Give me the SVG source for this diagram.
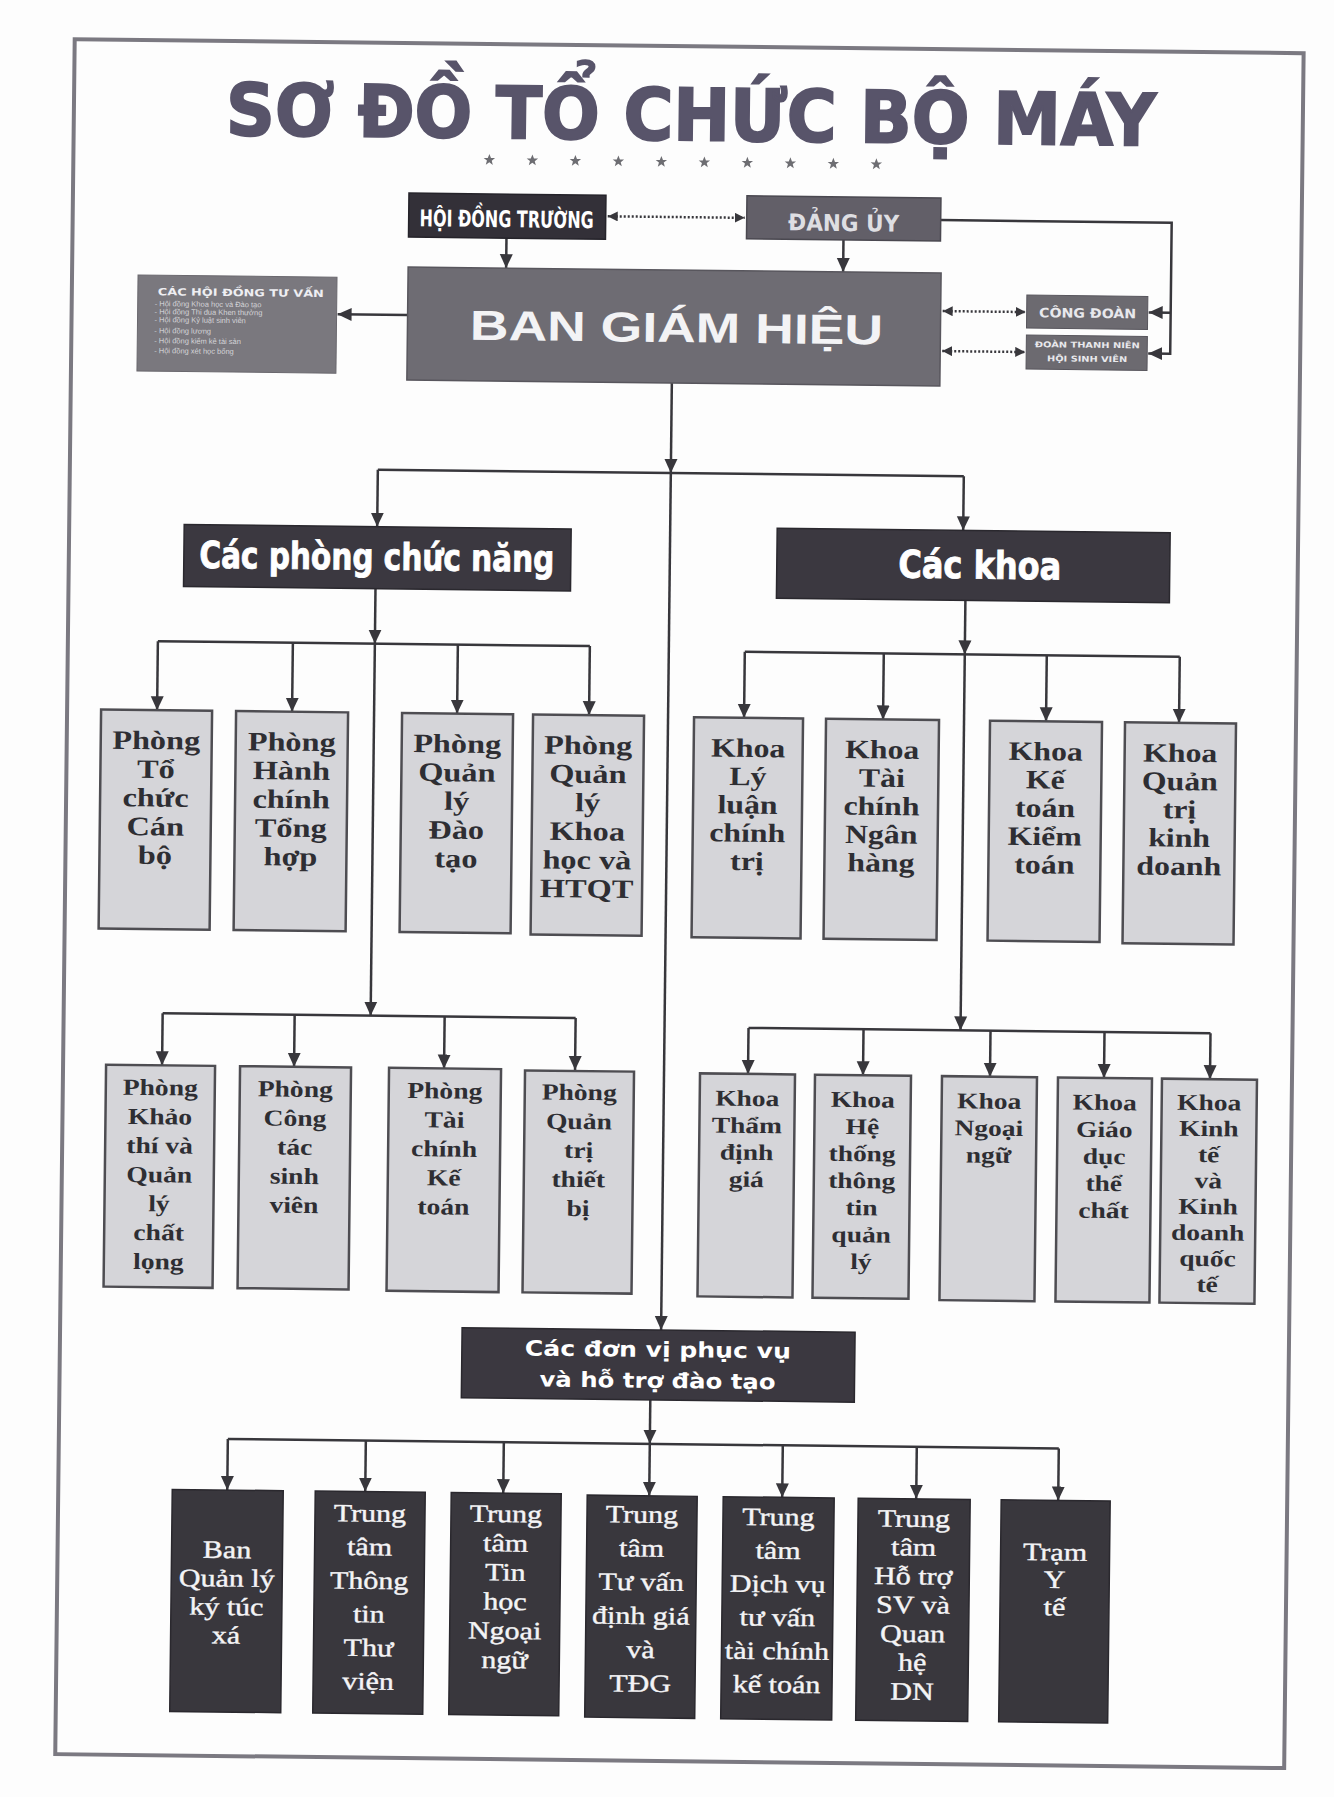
<svg xmlns="http://www.w3.org/2000/svg" width="1334" height="1797" viewBox="0 0 1334 1797">
<style>
.bl{fill:#d5d5d9;stroke:#4e4d52;stroke-width:2.5}
.bd{fill:#39373d;stroke:#2a282e;stroke-width:1.5}
.bh{fill:#3b3840;stroke:#2a282e;stroke-width:1.5}
.lt{font-family:"Liberation Serif",serif;font-weight:bold;fill:#2e2e33;text-anchor:middle}
.dt{font-family:"Liberation Serif",serif;fill:#f4f4f6;stroke:#f4f4f6;stroke-width:0.4;text-anchor:middle}
.hd{font-family:"DejaVu Sans",sans-serif;font-weight:bold;fill:#ffffff;text-anchor:middle}
.hx{stroke:#ffffff;stroke-width:0.9}
.sm{font-family:"Liberation Sans",sans-serif;fill:#d4d4d8}
.c{stroke:#38373c;stroke-width:2.5;fill:none}
.d{stroke:#38373c;stroke-width:2.5;fill:none;stroke-dasharray:2 2}
</style>
<defs>
<marker id="ah" viewBox="0 0 14 14" refX="14" refY="7" markerWidth="14" markerHeight="14" markerUnits="userSpaceOnUse" orient="auto"><path d="M0,0.5 L14,7 L0,13.5 z" fill="#38373c"/></marker>
<marker id="as" viewBox="0 0 10 10" refX="10" refY="5" markerWidth="10" markerHeight="10" markerUnits="userSpaceOnUse" orient="auto-start-reverse"><path d="M0,0 L10,5 L0,10 z" fill="#38373c"/></marker>
<path id="star" d="M0,-6 L1.6,-1.9 L5.7,-1.9 L2.4,0.7 L3.5,4.9 L0,2.4 L-3.5,4.9 L-2.4,0.7 L-5.7,-1.9 L-1.6,-1.9 z" fill="#6d6d72"/>
</defs>
<rect x="0" y="0" width="1334" height="1797" fill="#fdfdfd"/>
<g transform="rotate(0.65 667 898)">
<rect x="65" y="46" width="1229" height="1715" fill="none" stroke="#7b7981" stroke-width="4"/>
<text x="682" y="140" class="hd" font-size="72" style="fill:#58546a;stroke:#58546a;stroke-width:2" textLength="930" lengthAdjust="spacingAndGlyphs">SƠ ĐỒ TỔ CHỨC BỘ MÁY</text>
<g id="stars">
<use href="#star" x="481" y="162"/><use href="#star" x="524" y="162"/><use href="#star" x="567" y="162"/><use href="#star" x="610" y="162"/><use href="#star" x="653" y="162"/><use href="#star" x="696" y="162"/><use href="#star" x="739" y="162"/><use href="#star" x="782" y="162"/><use href="#star" x="825" y="162"/><use href="#star" x="868" y="162"/>
</g>

<g id="connectors">
<path class="d" d="M600,217 H737" marker-start="url(#as)" marker-end="url(#as)"/>
<path class="c" d="M499,240 V270" marker-end="url(#ah)"/>
<path class="c" d="M836,238 V270" marker-end="url(#ah)"/>
<path class="c" d="M933,217 H1164 V348 H1142" marker-end="url(#ah)"/>
<path class="c" d="M1164,307 H1142" marker-end="url(#ah)"/>
<path class="d" d="M936,308 H1019" marker-start="url(#as)" marker-end="url(#as)"/>
<path class="d" d="M936,348 H1019" marker-start="url(#as)" marker-end="url(#as)"/>
<path class="c" d="M401,318 H331" marker-end="url(#ah)"/>
<path class="c" d="M666,383 V473" marker-end="url(#ah)"/>
<path class="c" d="M373,473 H959"/>
<path class="c" d="M373,473 V530" marker-end="url(#ah)"/>
<path class="c" d="M959,473 V527" marker-end="url(#ah)"/>
<path class="c" d="M666,473 V1330" marker-end="url(#ah)"/>
<path class="c" d="M372,592 V647" marker-end="url(#ah)"/>
<path class="c" d="M155,647 H587"/>
<path class="c" d="M155,647 V716" marker-end="url(#ah)"/>
<path class="c" d="M290,647 V716" marker-end="url(#ah)"/>
<path class="c" d="M455,647 V716" marker-end="url(#ah)"/>
<path class="c" d="M587,647 V716" marker-end="url(#ah)"/>
<path class="c" d="M372,647 V1019" marker-end="url(#ah)"/>
<path class="c" d="M164,1019 H577"/>
<path class="c" d="M164,1019 V1071" marker-end="url(#ah)"/>
<path class="c" d="M296,1019 V1071" marker-end="url(#ah)"/>
<path class="c" d="M446,1019 V1071" marker-end="url(#ah)"/>
<path class="c" d="M577,1019 V1071" marker-end="url(#ah)"/>
<path class="c" d="M962,597 V651" marker-end="url(#ah)"/>
<path class="c" d="M742,651 H1177"/>
<path class="c" d="M742,651 V717" marker-end="url(#ah)"/>
<path class="c" d="M881,651 V717" marker-end="url(#ah)"/>
<path class="c" d="M1044,651 V717" marker-end="url(#ah)"/>
<path class="c" d="M1177,651 V717" marker-end="url(#ah)"/>
<path class="c" d="M962,651 V1027" marker-end="url(#ah)"/>
<path class="c" d="M750,1027 H1212"/>
<path class="c" d="M750,1027 V1073" marker-end="url(#ah)"/>
<path class="c" d="M865,1027 V1073" marker-end="url(#ah)"/>
<path class="c" d="M992,1027 V1073" marker-end="url(#ah)"/>
<path class="c" d="M1106,1027 V1073" marker-end="url(#ah)"/>
<path class="c" d="M1212,1027 V1073" marker-end="url(#ah)"/>
<path class="c" d="M656,1400 V1444" marker-end="url(#ah)"/>
<path class="c" d="M234,1444 H1065"/>
<path class="c" d="M234,1444 V1495" marker-end="url(#ah)"/>
<path class="c" d="M372,1444 V1495" marker-end="url(#ah)"/>
<path class="c" d="M510,1444 V1495" marker-end="url(#ah)"/>
<path class="c" d="M656,1444 V1496" marker-end="url(#ah)"/>
<path class="c" d="M789,1444 V1496" marker-end="url(#ah)"/>
<path class="c" d="M923,1444 V1496" marker-end="url(#ah)"/>
<path class="c" d="M1065,1444 V1496" marker-end="url(#ah)"/>
</g>

<g id="hoi-dong-truong">
<rect x="401" y="196" width="197" height="44" fill="#333038" stroke="#25232a" stroke-width="1.5"/>
<text x="499" y="229" class="hd" font-size="23" textLength="174" lengthAdjust="spacingAndGlyphs">HỘI ĐỒNG TRƯỜNG</text>
</g>
<g id="dang-uy">
<rect x="739" y="195" width="194" height="43" fill="#625f68" stroke="#4a4850" stroke-width="1.5"/>
<text x="836" y="229" class="hd" font-size="23" style="fill:#dedee2" textLength="111" lengthAdjust="spacingAndGlyphs">ĐẢNG ỦY</text>
</g>
<g id="ban-giam-hieu">
<rect x="401" y="270" width="533" height="113" fill="#6e6c73" stroke="#58565d" stroke-width="1.5"/>
<text x="670" y="342" font-family="Liberation Sans, sans-serif" font-weight="bold" font-size="42" fill="#f3f3f5" text-anchor="middle" textLength="413" lengthAdjust="spacingAndGlyphs">BAN GIÁM HIỆU</text>
</g>
<g id="hoi-dong-tu-van">
<rect x="131" y="281" width="199" height="96" fill="#7a787e" stroke="#6a686e" stroke-width="1"/>
<text x="234" y="301" class="hd" font-size="10" style="fill:#eeeef2" textLength="166" lengthAdjust="spacingAndGlyphs">CÁC HỘI ĐỒNG TƯ VẤN</text>
<text class="sm" font-size="7.5"><tspan x="148" y="312">- Hội đồng Khoa học và Đào tạo</tspan><tspan x="148" y="320">- Hội đồng Thi đua Khen thưởng</tspan><tspan x="148" y="328">- Hội đồng Kỷ luật sinh viên</tspan><tspan x="148" y="339">- Hội đồng lương</tspan><tspan x="148" y="349">- Hội đồng kiểm kê tài sản</tspan><tspan x="148" y="359">- Hội đồng xét học bổng</tspan></text>
</g>
<g id="cong-doan">
<rect x="1020" y="291" width="121" height="33" fill="#6c6a70" stroke="#58565d" stroke-width="1"/>
<text x="1081" y="313" class="hd" font-size="13" style="fill:#e8e8ec" textLength="97" lengthAdjust="spacingAndGlyphs">CÔNG ĐOÀN</text>
</g>
<g id="doan-thanh-nien">
<rect x="1020" y="331" width="121" height="34" fill="#6c6a70" stroke="#58565d" stroke-width="1"/>
<text class="hd" font-size="8" style="fill:#e8e8ec"><tspan x="1081" y="343" textLength="105" lengthAdjust="spacingAndGlyphs">ĐOÀN THANH NIÊN</tspan><tspan x="1081" y="357" textLength="80" lengthAdjust="spacingAndGlyphs">HỘI SINH VIÊN</tspan></text>
</g>

<g id="cac-phong-chuc-nang">
<rect x="180" y="530" width="387" height="62" class="bh"/>
<text x="373" y="573" class="hd hx" font-size="37" textLength="355" lengthAdjust="spacingAndGlyphs">Các phòng chức năng</text>
</g>
<g id="cac-khoa">
<rect x="773" y="527" width="393" height="70" class="bh"/>
<text x="976" y="575" class="hd hx" font-size="38" textLength="163" lengthAdjust="spacingAndGlyphs">Các khoa</text>
</g>
<g id="cac-don-vi">
<rect x="467" y="1330" width="393" height="70" class="bh"/>
<text class="hd" font-size="21"><tspan x="663" y="1357" textLength="266" lengthAdjust="spacingAndGlyphs">Các đơn vị phục vụ</tspan><tspan x="663" y="1388" textLength="236" lengthAdjust="spacingAndGlyphs">và hỗ trợ đào tạo</tspan></text>
</g>

<g id="p-to-chuc-can-bo">
<rect x="99" y="716" width="111" height="219" class="bl"/>
<text class="lt" font-size="26.5" transform="translate(154.5 0) scale(1.22 1)"><tspan x="0" y="755">Phòng</tspan><tspan x="0" y="783.7">Tổ</tspan><tspan x="0" y="812.4">chức</tspan><tspan x="0" y="841.1">Cán</tspan><tspan x="0" y="869.8">bộ</tspan></text>
</g>
<g id="p-hanh-chinh">
<rect x="234" y="716" width="112" height="219" class="bl"/>
<text class="lt" font-size="26.5" transform="translate(290 0) scale(1.22 1)"><tspan x="0" y="755">Phòng</tspan><tspan x="0" y="783.7">Hành</tspan><tspan x="0" y="812.4">chính</tspan><tspan x="0" y="841.1">Tổng</tspan><tspan x="0" y="869.8">hợp</tspan></text>
</g>
<g id="p-dao-tao">
<rect x="400" y="716" width="111" height="219" class="bl"/>
<text class="lt" font-size="26.5" transform="translate(455.5 0) scale(1.22 1)"><tspan x="0" y="755">Phòng</tspan><tspan x="0" y="783.7">Quản</tspan><tspan x="0" y="812.4">lý</tspan><tspan x="0" y="841.1">Đào</tspan><tspan x="0" y="869.8">tạo</tspan></text>
</g>
<g id="p-khoa-hoc">
<rect x="531" y="716" width="111" height="220" class="bl"/>
<text class="lt" font-size="26.5" transform="translate(586.5 0) scale(1.22 1)"><tspan x="0" y="755">Phòng</tspan><tspan x="0" y="783.7">Quản</tspan><tspan x="0" y="812.4">lý</tspan><tspan x="0" y="841.1">Khoa</tspan><tspan x="0" y="869.8">học và</tspan><tspan x="0" y="898.5">HTQT</tspan></text>
</g>

<g id="k-ly-luan">
<rect x="692" y="717" width="109" height="220" class="bl"/>
<text class="lt" font-size="26.5" transform="translate(746.5 0) scale(1.2 1)"><tspan x="0" y="756">Khoa</tspan><tspan x="0" y="784.3">Lý</tspan><tspan x="0" y="812.6">luận</tspan><tspan x="0" y="840.9">chính</tspan><tspan x="0" y="869.2">trị</tspan></text>
</g>
<g id="k-tai-chinh">
<rect x="824" y="717" width="113" height="220" class="bl"/>
<text class="lt" font-size="26.5" transform="translate(880.5 0) scale(1.2 1)"><tspan x="0" y="756">Khoa</tspan><tspan x="0" y="784.3">Tài</tspan><tspan x="0" y="812.6">chính</tspan><tspan x="0" y="840.9">Ngân</tspan><tspan x="0" y="869.2">hàng</tspan></text>
</g>
<g id="k-ke-toan">
<rect x="988" y="717" width="112" height="220" class="bl"/>
<text class="lt" font-size="26.5" transform="translate(1044 0) scale(1.2 1)"><tspan x="0" y="756">Khoa</tspan><tspan x="0" y="784.3">Kế</tspan><tspan x="0" y="812.6">toán</tspan><tspan x="0" y="840.9">Kiểm</tspan><tspan x="0" y="869.2">toán</tspan></text>
</g>
<g id="k-quan-tri">
<rect x="1123" y="717" width="111" height="221" class="bl"/>
<text class="lt" font-size="26.5" transform="translate(1178.5 0) scale(1.2 1)"><tspan x="0" y="756">Khoa</tspan><tspan x="0" y="784.3">Quản</tspan><tspan x="0" y="812.6">trị</tspan><tspan x="0" y="840.9">kinh</tspan><tspan x="0" y="869.2">doanh</tspan></text>
</g>

<g id="p-khao-thi">
<rect x="108" y="1071" width="109" height="222" class="bl"/>
<text class="lt" font-size="23" transform="translate(162.5 0) scale(1.2 1)"><tspan x="0" y="1101">Phòng</tspan><tspan x="0" y="1130">Khảo</tspan><tspan x="0" y="1159">thí và</tspan><tspan x="0" y="1188">Quản</tspan><tspan x="0" y="1217">lý</tspan><tspan x="0" y="1246">chất</tspan><tspan x="0" y="1275">lọng</tspan></text>
</g>
<g id="p-cong-tac-sv">
<rect x="242" y="1071" width="111" height="222" class="bl"/>
<text class="lt" font-size="23" transform="translate(297.5 0) scale(1.2 1)"><tspan x="0" y="1101">Phòng</tspan><tspan x="0" y="1130">Công</tspan><tspan x="0" y="1159">tác</tspan><tspan x="0" y="1188">sinh</tspan><tspan x="0" y="1217">viên</tspan></text>
</g>
<g id="p-tai-chinh">
<rect x="391" y="1071" width="112" height="223" class="bl"/>
<text class="lt" font-size="23" transform="translate(447 0) scale(1.2 1)"><tspan x="0" y="1101">Phòng</tspan><tspan x="0" y="1130">Tài</tspan><tspan x="0" y="1159">chính</tspan><tspan x="0" y="1188">Kế</tspan><tspan x="0" y="1217">toán</tspan></text>
</g>
<g id="p-quan-tri">
<rect x="527" y="1072" width="109" height="222" class="bl"/>
<text class="lt" font-size="23" transform="translate(581.5 0) scale(1.2 1)"><tspan x="0" y="1101">Phòng</tspan><tspan x="0" y="1130">Quản</tspan><tspan x="0" y="1159">trị</tspan><tspan x="0" y="1188">thiết</tspan><tspan x="0" y="1217">bị</tspan></text>
</g>

<g id="k-tham-dinh">
<rect x="702" y="1073" width="95" height="223" class="bl"/>
<text class="lt" font-size="22.5" transform="translate(749.5 0) scale(1.22 1)"><tspan x="0" y="1105">Khoa</tspan><tspan x="0" y="1132">Thẩm</tspan><tspan x="0" y="1159">định</tspan><tspan x="0" y="1186">giá</tspan></text>
</g>
<g id="k-he-thong">
<rect x="817" y="1073" width="96" height="223" class="bl"/>
<text class="lt" font-size="22.5" transform="translate(865 0) scale(1.22 1)"><tspan x="0" y="1105">Khoa</tspan><tspan x="0" y="1132">Hệ</tspan><tspan x="0" y="1159">thống</tspan><tspan x="0" y="1186">thông</tspan><tspan x="0" y="1213">tin</tspan><tspan x="0" y="1240">quản</tspan><tspan x="0" y="1267">lý</tspan></text>
</g>
<g id="k-ngoai-ngu">
<rect x="944" y="1073" width="95" height="224" class="bl"/>
<text class="lt" font-size="22.5" transform="translate(991.5 0) scale(1.22 1)"><tspan x="0" y="1105">Khoa</tspan><tspan x="0" y="1132">Ngoại</tspan><tspan x="0" y="1159">ngữ</tspan></text>
</g>
<g id="k-giao-duc">
<rect x="1060" y="1073" width="94" height="224" class="bl"/>
<text class="lt" font-size="22.5" transform="translate(1107 0) scale(1.22 1)"><tspan x="0" y="1105">Khoa</tspan><tspan x="0" y="1132">Giáo</tspan><tspan x="0" y="1159">dục</tspan><tspan x="0" y="1186">thể</tspan><tspan x="0" y="1213">chất</tspan></text>
</g>
<g id="k-kinh-te">
<rect x="1164" y="1073" width="95" height="224" class="bl"/>
<text class="lt" font-size="22.5" transform="translate(1211.5 0) scale(1.22 1)"><tspan x="0" y="1104">Khoa</tspan><tspan x="0" y="1130">Kinh</tspan><tspan x="0" y="1156">tế</tspan><tspan x="0" y="1182">và</tspan><tspan x="0" y="1208">Kinh</tspan><tspan x="0" y="1234">doanh</tspan><tspan x="0" y="1260">quốc</tspan><tspan x="0" y="1286">tế</tspan></text>
</g>

<g id="ban-ktx">
<rect x="179" y="1495" width="111" height="222" class="bd"/>
<text class="dt" font-size="25" transform="translate(234.5 0) scale(1.2 1)"><tspan x="0" y="1563">Ban</tspan><tspan x="0" y="1591.5">Quản lý</tspan><tspan x="0" y="1620">ký túc</tspan><tspan x="0" y="1648.5">xá</tspan></text>
</g>
<g id="tt-thu-vien">
<rect x="322" y="1495" width="110" height="222" class="bd"/>
<text class="dt" font-size="25" transform="translate(377 0) scale(1.2 1)"><tspan x="0" y="1525">Trung</tspan><tspan x="0" y="1558.6">tâm</tspan><tspan x="0" y="1592.2">Thông</tspan><tspan x="0" y="1625.8">tin</tspan><tspan x="0" y="1659.4">Thư</tspan><tspan x="0" y="1693">viện</tspan></text>
</g>
<g id="tt-tin-hoc">
<rect x="458" y="1495" width="110" height="222" class="bd"/>
<text class="dt" font-size="25" transform="translate(513 0) scale(1.2 1)"><tspan x="0" y="1524">Trung</tspan><tspan x="0" y="1553.2">tâm</tspan><tspan x="0" y="1582.4">Tin</tspan><tspan x="0" y="1611.6">học</tspan><tspan x="0" y="1640.8">Ngoại</tspan><tspan x="0" y="1670">ngữ</tspan></text>
</g>
<g id="tt-tu-van-dinh-gia">
<rect x="594" y="1496" width="110" height="222" class="bd"/>
<text class="dt" font-size="25" transform="translate(649 0) scale(1.2 1)"><tspan x="0" y="1523">Trung</tspan><tspan x="0" y="1556.8">tâm</tspan><tspan x="0" y="1590.6">Tư vấn</tspan><tspan x="0" y="1624.4">định giá</tspan><tspan x="0" y="1658.2">và</tspan><tspan x="0" y="1692">TĐG</tspan></text>
</g>
<g id="tt-dich-vu">
<rect x="730" y="1496" width="111" height="222" class="bd"/>
<text class="dt" font-size="25" transform="translate(785.5 0) scale(1.2 1)"><tspan x="0" y="1524">Trung</tspan><tspan x="0" y="1557.5">tâm</tspan><tspan x="0" y="1591">Dịch vụ</tspan><tspan x="0" y="1624.5">tư vấn</tspan><tspan x="0" y="1658">tài chính</tspan><tspan x="0" y="1691.5">kế toán</tspan></text>
</g>
<g id="tt-ho-tro-sv">
<rect x="865" y="1496" width="112" height="222" class="bd"/>
<text class="dt" font-size="25" transform="translate(921 0) scale(1.2 1)"><tspan x="0" y="1524">Trung</tspan><tspan x="0" y="1552.8">tâm</tspan><tspan x="0" y="1581.6">Hỗ trợ</tspan><tspan x="0" y="1610.4">SV và</tspan><tspan x="0" y="1639.2">Quan</tspan><tspan x="0" y="1668">hệ</tspan><tspan x="0" y="1696.8">DN</tspan></text>
</g>
<g id="tram-y-te">
<rect x="1008" y="1496" width="109" height="222" class="bd"/>
<text class="dt" font-size="25" transform="translate(1062.5 0) scale(1.2 1)"><tspan x="0" y="1556">Trạm</tspan><tspan x="0" y="1583.5">Y</tspan><tspan x="0" y="1611">tế</tspan></text>
</g>
</g>
</svg>
